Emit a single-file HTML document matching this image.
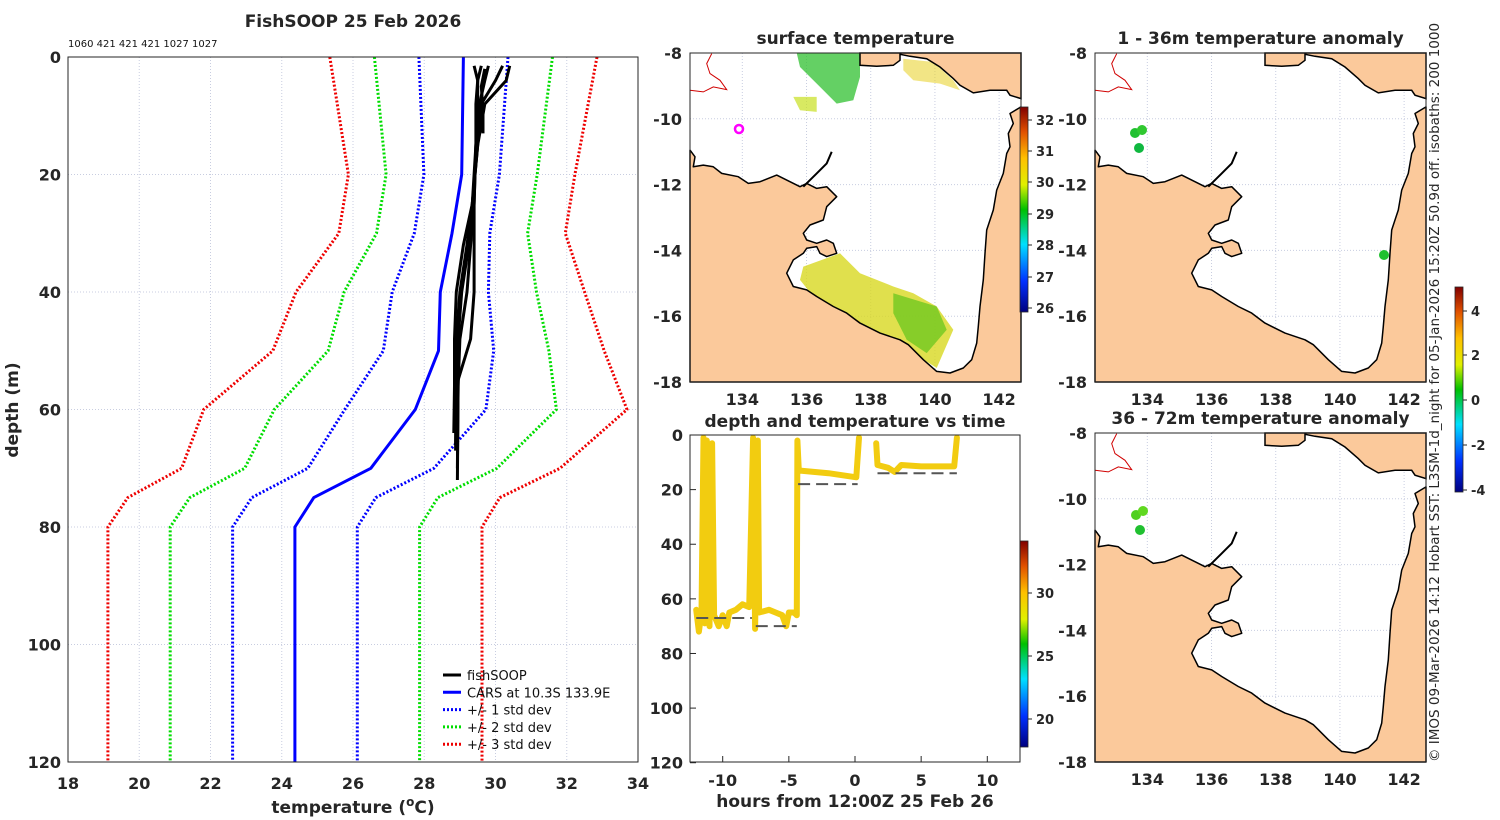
<!DOCTYPE html>
<html><head><meta charset="utf-8"><style>
html,body{margin:0;padding:0;background:#fff;}
svg{display:block;font-family:"DejaVu Sans","Liberation Sans",sans-serif;}
.t{font-weight:bold;fill:#262626;}
</style></head><body>
<svg id="s" width="1500" height="820" viewBox="0 0 1500 820" xmlns="http://www.w3.org/2000/svg">
<defs>
<linearGradient id="jet" x1="0" y1="1" x2="0" y2="0">
<stop offset="0" stop-color="#00007f"/><stop offset="0.15" stop-color="#0030ff"/><stop offset="0.33" stop-color="#00e0ff"/>
<stop offset="0.5" stop-color="#00c000"/><stop offset="0.62" stop-color="#e0f000"/><stop offset="0.75" stop-color="#ffc000"/>
<stop offset="0.88" stop-color="#e05000"/><stop offset="1" stop-color="#800000"/></linearGradient>
</defs>
<g id="main"></g>
<g id="maps"></g>
<g id="dt"></g>
<text class="t" x="353" y="27" font-size="17" text-anchor="middle">FishSOOP 25 Feb 2026</text>
<text x="68" y="47" font-size="10" fill="#111">1060 421 421 421 1027 1027</text>
<text x="1439" y="762" font-size="13.5" fill="#262626" transform="rotate(-90 1439 762)">© IMOS 09-Mar-2026 14:12 Hobart SST: L3SM-1d_night for 05-Jan-2026 15:20Z 50.9d off. isobaths: 200  1000</text>
</svg>
<script>
// ---- profile chart data ----
const carsDepths=[0,20,30,40,50,60,70,75,80,120];
const carsMean=[29.1,29.05,28.78,28.45,28.4,27.75,26.5,24.9,24.37,24.37];
const carsStd=[1.25,1.06,1.06,1.35,1.55,1.98,1.77,1.74,1.75,1.75];
const fsDepths=[1.5,4,8,15,25,32,40,48,56];
const fsP1=[30.4,30.3,29.7,29.5,29.35,29.1,28.9,28.85,28.85];
const fsP2=[30.2,30.0,29.6,29.5,29.35,29.2,29.0,28.9,28.9];
const fsP3=[29.8,29.7,29.55,29.45,29.35,29.25,29.05,28.95,28.95];
const fsP4=[29.4,29.5,29.5,29.45,29.4,29.3,29.2,29.0,28.95];
const fsP5=[29.6,29.5,29.45,29.45,29.4,29.4,29.4,29.3,28.9];
const fsEnds=[64,67,70,72,66];
const fsShortDepths=[2,5,9,13];
const fsShort=[29.7,29.6,29.65,29.65];
const xTicks=[18,20,22,24,26,28,30,32,34];
const yTicks=[0,20,40,60,80,100,120];
// ---- depth-time data ----
const trackT=[-12,-11.8,-11.6,-11.45,-11.35,-11.2,-11.0,-10.8,-10.65,-10.3,-10,-9.7,-9.5,-9,-8.5,-8,-7.7,-7.55,-7.35,-7.25,-6.5,-6,-5.5,-5.2,-5,-4.6,-4.4,-4.35,-4.25,-2,0.1,0.3];
const trackD=[64,72,65,1,69,2,70,3,66,70,66,70,65,64,62,63,1,71,2,65,64,65,66,70,65,65,66,2,13,14,15.5,1];
const track2T=[1.6,1.7,2.5,3,3.5,5,7.5,7.7];
const track2D=[3,11,12,13.5,11,11.5,11.5,1];
const bottomStart=[-12,-7.5,-4.3,1.7];
const bottomEnd=[-7.8,-4.4,0.2,7.7];
const bottomDepth=[67,70,18,14];
const dtXTicks=[-10,-5,0,5,10];
const dtYTicks=[0,20,40,60,80,100,120];

const NS='http://www.w3.org/2000/svg';
function mk(parent,tag,attrs){const e=document.createElementNS(NS,tag);for(const k in attrs)e.setAttribute(k,attrs[k]);parent.appendChild(e);return e;}
function txt(parent,x,y,s,size,anchor){const e=mk(parent,'text',{x:x,y:y,'font-size':size,'text-anchor':anchor,class:'t'});e.textContent=s;return e;}

// ===== main profile chart =====
const M=document.getElementById('main');
const X=t=>68+(t-18)*570/16, Y=d=>57+d*705/120;
xTicks.forEach(t=>{const l=mk(M,'line',{x1:X(t),x2:X(t),y1:57,y2:762,stroke:'#c8cde0','stroke-dasharray':'1 2','stroke-width':1});

const tx=txt(M,X(t),789,String(t),16,'middle');});
yTicks.forEach(d=>{const l=mk(M,'line',{x1:68,x2:638,y1:Y(d),y2:Y(d),stroke:'#c8cde0','stroke-dasharray':'1 2','stroke-width':1});

const tx=txt(M,61,Y(d)+6,String(d),16,'end');});
function line(g,ts,ds,col,w,dash,name){const pts=ts.map((t,i)=>X(t).toFixed(1)+','+Y(ds[i]).toFixed(1)).join(' ');
const p=mk(g,'polyline',{points:pts,fill:'none',stroke:col,'stroke-width':w,'stroke-linejoin':'round'});if(dash)p.setAttribute('stroke-dasharray',dash);
return p;}
const sdCols=['#0000ff','#00dd00','#ee0000'];
[1,2,3].forEach(k=>{
 line(M,carsMean.map((m,i)=>m-k*carsStd[i]),carsDepths,sdCols[k-1],3,'2 2','std-dev-'+k+'-minus');
 line(M,carsMean.map((m,i)=>m+k*carsStd[i]),carsDepths,sdCols[k-1],3,'2 2','std-dev-'+k+'-plus');
});
line(M,carsMean,carsDepths,'#0000ff',3,null,'cars-mean-line');
[fsP1,fsP2,fsP3,fsP4,fsP5].forEach((p,j)=>{
 const ts=p.slice(),ds=fsDepths.slice();ts.push(p[p.length-1]-0.02);ds.push(fsEnds[j]);
 line(M,ts,ds,'#000',3,null,'fishsoop-profile');
});
line(M,fsShort,fsShortDepths,'#000',3,null,'fishsoop-profile-short');
const fr=mk(M,'rect',{x:68,y:57,width:570,height:705,fill:'none',stroke:'#262626','stroke-width':1});

let a=txt(M,353,813,'temperature (',17,'middle');
a.innerHTML='temperature (<tspan dy="-7" font-size="12">o</tspan><tspan dy="7">C)</tspan>';
a=txt(M,0,0,'depth (m)',17,'middle');a.setAttribute('transform','translate(18 410) rotate(-90)');

const leg=[['fishSOOP','#000',null],['CARS at 10.3S 133.9E','#0000ff',null],['+/- 1 std dev','#0000ff','2 2'],['+/- 2 std dev','#00dd00','2 2'],['+/- 3 std dev','#ee0000','2 2']];
leg.forEach((e,i)=>{const y=675+i*17.3;const g=mk(M,'g',{});
const l=mk(g,'line',{x1:443,x2:461,y1:y,y2:y,stroke:e[1],'stroke-width':3});if(e[2])l.setAttribute('stroke-dasharray',e[2]);
const t=mk(g,'text',{x:467,y:y+5,'font-size':13,fill:'#111'});t.textContent=e[0];});

// ===== maps =====
const G=document.getElementById('maps');
const landPoly=[[90,330],[105,350],[100,380],[130,375],[160,380],[185,400],[235,410],[265,430],[300,425],[350,405],[380,420],[420,440],[440,430],[470,445],[500,440],[530,470],[500,500],[490,540],[450,555],[430,580],[440,600],[470,610],[500,600],[520,610],[530,640],[500,650],[480,640],[470,620],[440,625],[430,640],[400,660],[380,700],[400,740],[440,750],[470,770],[520,800],[560,820],[600,850],[660,880],[720,900],[745,915],[790,960],[830,995],[870,1000],[910,985],[935,960],[950,910],[955,860],[960,800],[970,720],[975,640],[980,570],[1000,510],[1010,450],[1030,400],[1040,340],[1050,320],[1045,280],[1060,250],[1050,220],[1083,200],[1083,1027],[90,1027]];
const topLand=[[600,38],[1083,38],[1083,175],[1050,165],[1040,150],[990,150],[940,158],[900,135],[880,115],[840,80],[800,55],[750,48],[720,42],[720,60],[700,75],[650,78],[600,75]];
const chain=[[430,440],[470,400],[500,370],[515,335]];
const redLine=[[90,150],[130,155],[160,140],[200,148],[180,120],[150,100],[140,70],[155,40]];
const sstPatches=[
 [[[410,38],[600,38],[600,110],[580,180],[530,190],[480,140],[420,80]],'#30c030',0.75],
 [[[400,170],[470,170],[470,215],[420,210]],'#c8e020',0.7],
 [[[730,55],[820,65],[880,120],[900,150],[840,130],[760,120],[730,90]],'#e8d020',0.55],
 [[[430,680],[540,640],[600,700],[700,740],[760,760],[830,800],[880,870],[830,985],[760,940],[700,900],[600,850],[520,810],[460,770],[420,720]],'#d8d820',0.8],
 [[[700,760],[830,800],[860,870],[800,940],[740,900],[700,820]],'#70c820',0.8],
 [[[460,760],[520,800],[600,845],[590,860],[510,815],[455,775]],'#f0a010',0.8]];
const lonTicks=[134,136,138,140,142], latTicks=[-8,-10,-12,-14,-16,-18];
function drawMap(x0,y0,title,showX,patches,dots,name){
 const g=mk(G,'g',{});
 const w=331,h=329;const P=p=>[(x0+(p[0]-90)/993*w).toFixed(1),(y0+(p[1]-38)/989*h).toFixed(1)].join(',');
 const LX=lon=>x0+(lon-132.37)*32.1, LY=lat=>y0+(-8-lat)*32.9;
 mk(g,'rect',{x:x0,y:y0,width:w,height:h,fill:'#fff'});
 lonTicks.forEach(l=>mk(g,'line',{x1:LX(l),x2:LX(l),y1:y0,y2:y0+h,stroke:'#c8cde0','stroke-dasharray':'1 2'}));
 latTicks.forEach(l=>mk(g,'line',{x1:x0,x2:x0+w,y1:LY(l),y2:LY(l),stroke:'#c8cde0','stroke-dasharray':'1 2'}));
 patches.forEach(pp=>mk(g,'polygon',{points:pp[0].map(P).join(' '),fill:pp[1],opacity:pp[2]}));
 mk(g,'polygon',{points:landPoly.map(P).join(' '),fill:'#fbc99b',stroke:'#000','stroke-width':1.5,'stroke-linejoin':'round'});
 mk(g,'polygon',{points:topLand.map(P).join(' '),fill:'#fbc99b',stroke:'#000','stroke-width':1.5});
 mk(g,'polyline',{points:chain.map(P).join(' '),fill:'none',stroke:'#000','stroke-width':2});
 mk(g,'polyline',{points:redLine.map(P).join(' '),fill:'none',stroke:'#d00000','stroke-width':1});
 dots.forEach(d=>{const c=mk(g,'circle',{cx:d[0],cy:d[1],r:5,fill:d[2]});});
 mk(g,'rect',{x:x0,y:y0,width:w,height:h,fill:'none',stroke:'#262626'});
 const tt=txt(g,x0+w/2,y0-9,title,17,'middle');
 latTicks.forEach(l=>txt(g,x0-8,LY(l)+6,String(l),16,'end'));
 if(showX) lonTicks.forEach(l=>txt(g,LX(l),y0+h+23,String(l),16,'middle'));
}
drawMap(690,53,'surface temperature',true,sstPatches,[],'surface-temperature-map');
const ring=mk(G,'circle',{cx:739,cy:129,r:4,fill:'none',stroke:'#ff00ff','stroke-width':2.5});

drawMap(1095,53,'1 - 36m temperature anomaly',true,[],[[1135,133,'#20c030'],[1142,130,'#30c830'],[1139,148,'#10b840'],[1384,255,'#20c030']],'anomaly-map-upper');
drawMap(1095,433,'36 - 72m temperature anomaly',true,[],[[1136,515,'#50d020'],[1143,511,'#60d820'],[1140,530,'#20c030']],'anomaly-map-lower');
// colorbars
function cbar(x,y0,y1,labels,name){const g=mk(G,'g',{});
 mk(g,'rect',{x:x,y:y0,width:8,height:y1-y0,fill:'url(#jet)',stroke:'#262626','stroke-width':0.8});
 labels.forEach(l=>{mk(g,'line',{x1:x+8,x2:x+12,y1:l[1],y2:l[1],stroke:'#262626'});txt(g,x+16,l[1]+5,l[0],13,'start');});}
cbar(1020,107,312,[['32',120],['31',151],['30',182],['29',214],['28',245],['27',277],['26',308]],'sst-colorbar');
cbar(1020,541,747,[['30',593],['25',656],['20',719]],'depth-time-colorbar');
cbar(1455,287,492,[['4',311],['2',355],['0',400],['-2',445],['-4',490]],'anomaly-colorbar');

// ===== depth-time chart =====
const D=document.getElementById('dt');
const TX=t=>855+t*13.23, TY=d=>435+d*2.731;
mk(D,'rect',{x:690,y:435,width:330,height:327,fill:'#fff'});
function tline(ts,ds,name){const p=mk(D,'polyline',{points:ts.map((t,i)=>TX(t).toFixed(1)+','+TY(ds[i]).toFixed(1)).join(' '),fill:'none',stroke:'#f2cc10','stroke-width':6,'stroke-linejoin':'round','stroke-linecap':'round'});
}
tline(trackT,trackD,'track-segment-1');
tline(track2T,track2D,'track-segment-2');
bottomDepth.forEach((d,i)=>{const l=mk(D,'line',{x1:TX(bottomStart[i]),x2:TX(bottomEnd[i]),y1:TY(d),y2:TY(d),stroke:'#555','stroke-width':2,'stroke-dasharray':'12 6'});
});
mk(D,'rect',{x:690,y:435,width:330,height:327,fill:'none',stroke:'#262626'});
dtXTicks.forEach(t=>{mk(D,'line',{x1:TX(t),x2:TX(t),y1:762,y2:756,stroke:'#262626'});const e=txt(D,TX(t),786,String(t),16,'middle');});
dtYTicks.forEach(d=>{mk(D,'line',{x1:690,x2:696,y1:TY(d),y2:TY(d),stroke:'#262626'});const e=txt(D,683,TY(d)+6,String(d),16,'end');});
a=txt(D,855,807,'hours from 12:00Z 25 Feb 26',17,'middle');
a=txt(D,855,427,'depth and temperature vs time',17,'middle');
</script>
</body></html>
